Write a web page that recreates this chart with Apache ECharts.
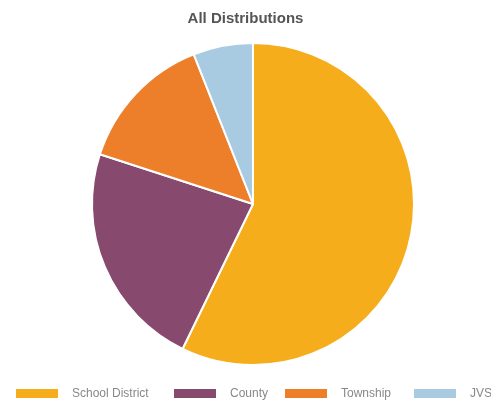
<!DOCTYPE html>
<html>
<head>
<meta charset="utf-8">
<script src="https://cdn.jsdelivr.net/npm/echarts@6/dist/echarts.min.js"></script>
<style>
  html, body { margin: 0; padding: 0; background: #fff; }
  #chart { width: 491px; height: 402px; }
</style>
</head>
<body>
<div id="chart"></div>
<script>
var categories = ['School District', 'County', 'Township', 'JVS'];
var shares = [57.2, 22.8, 14.0, 6.0];
var colors = ['#F6AD1C', '#874A6E', '#EE7F2A', '#A8CBE2'];
var legendLeft = [14, 172, 283, 412];

var myChart = echarts.init(document.getElementById('chart'));

// one legend per item so each sits where the reference puts it
var legends = categories.map(function (c, i) {
  return {
    left: legendLeft[i],
    top: 387,
    itemWidth: 44,
    itemHeight: 11,
    icon: 'rect',
    padding: 0,
    textStyle: { fontFamily: 'Arial', fontSize: 12, color: '#888', padding: [0, 0, 0, 8] },
    data: [c]
  };
});

myChart.setOption({
  animation: false,
  color: colors,
  title: {
    text: 'All Distributions',
    left: 'center',
    top: 6,
    textStyle: { fontFamily: 'Arial', fontSize: 15, fontWeight: 'bold', color: '#555' }
  },
  legend: legends,
  series: [{
    type: 'pie',
    center: [253, 204],
    radius: 161,
    startAngle: 90,
    clockwise: true,
    label: { show: false },
    labelLine: { show: false },
    itemStyle: { borderColor: '#fff', borderWidth: 2 },
    data: categories.map(function (c, i) { return { name: c, value: shares[i] }; })
  }]
});
</script>
</body>
</html>
